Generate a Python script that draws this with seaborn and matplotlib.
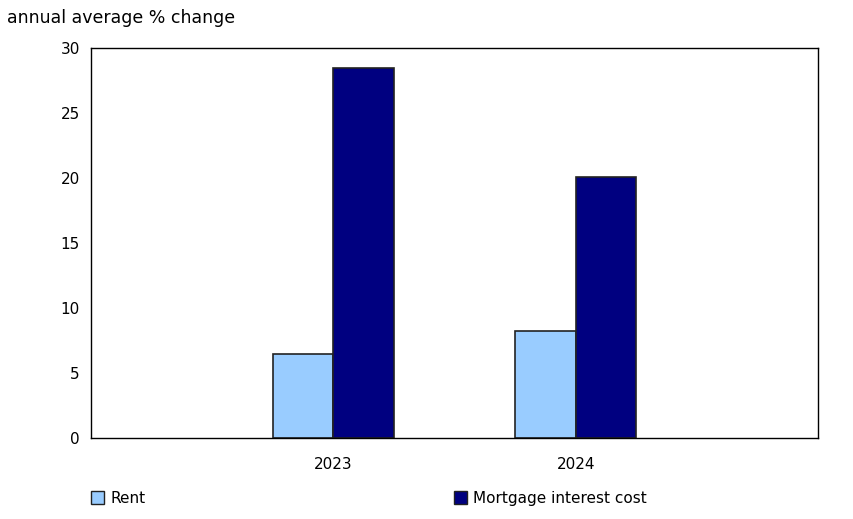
import numpy as np
import pandas as pd
import matplotlib
matplotlib.use("Agg")
import matplotlib.pyplot as plt
import seaborn as sns
from matplotlib.patches import Patch

years = ["2023", "2024"]
rent = [6.5, 8.2]
mortgage = [28.5, 20.1]
series = ["Rent", "Mortgage interest cost"]
colors = ["#99CCFF", "#000080"]

df = pd.DataFrame({
    "year": years * 2,
    "value": rent + mortgage,
    "series": [series[0]] * 2 + [series[1]] * 2,
})

sns.set_style("white")
plt.rcParams["font.family"] = ["DejaVu Sans"]
plt.rcParams["text.color"] = "black"
plt.rcParams["xtick.color"] = "black"
plt.rcParams["ytick.color"] = "black"

fig = plt.figure(figsize=(8.54, 5.19), dpi=100)
ax = fig.add_axes([0.1066, 0.156, 0.8512, 0.7515])

sns.barplot(data=df, x="year", y="value", hue="series", palette=colors,
            saturation=1, width=0.5, edgecolor="#222222", linewidth=1.2,
            ax=ax, legend=False)

ax.set_xlim(-1, 2)
ax.set_ylim(0, 30)
ax.set_yticks(range(0, 31, 5))
ax.set_xlabel("")
ax.set_ylabel("")
ax.tick_params(axis="y", direction="in", length=6, width=1, labelsize=11, pad=8)
ax.tick_params(axis="x", length=0, labelsize=11, pad=14)
for s in ax.spines.values():
    s.set_color("black")
    s.set_linewidth(1)

fig.text(0.008, 0.965, "annual average % change", fontsize=12.5, va="center")

for lbl, c, x in zip(series, colors, [0.09, 0.515]):
    fig.legend(handles=[Patch(facecolor=c, edgecolor="#222222", label=lbl)],
               loc="center left", bbox_to_anchor=(x, 0.04), frameon=False,
               fontsize=11, handlelength=0.9, handleheight=0.9, handletextpad=0.4)

fig.savefig("out.png", dpi=100)
